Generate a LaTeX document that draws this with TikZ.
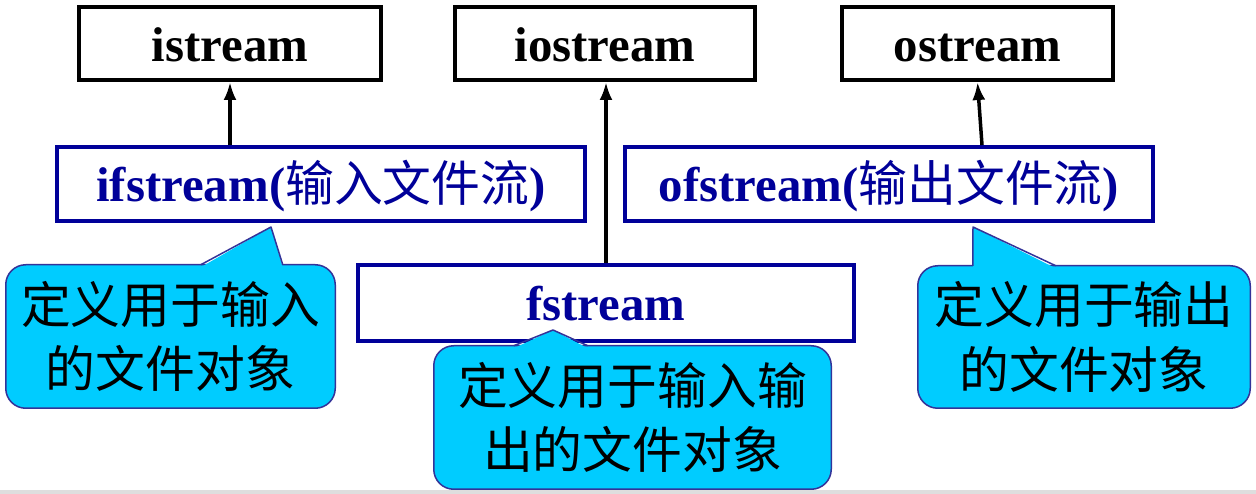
\documentclass[tikz,border=0pt]{standalone}
\usepackage{fontspec}
\setmainfont{Liberation Serif}
\newfontfamily\cjk{Noto Sans CJK SC}
\usetikzlibrary{arrows.meta}
\definecolor{fileblue}{HTML}{000099}
\definecolor{notecyan}{HTML}{00CCFF}
\definecolor{noteedge}{HTML}{333399}
\newcommand{\zh}[1]{{\cjk\mdseries #1}}

\begin{document}
\begin{tikzpicture}[>={Latex[length=18bp,width=13bp]}]
 \tikzstyle{base}=[draw=black,line width=4bp,fill=white,minimum height=73bp,text height=36bp,text depth=0bp,font=\fontsize{49}{58}\selectfont\bfseries]
 \tikzstyle{file}=[draw=fileblue,line width=4bp,fill=white,text=fileblue,minimum width=528bp,minimum height=74bp,text height=36bp,text depth=0bp,font=\fontsize{49}{58}\selectfont\bfseries]
 \tikzstyle{note}=[draw=noteedge,line width=1.5bp,fill=notecyan,rounded corners=20bp,outer sep=0pt,align=center,font=\fontsize{50}{65}\selectfont\cjk]
 \tikzstyle{pointer}=[draw=noteedge,line width=1.5bp,line join=round]
 \tikzstyle{inherit}=[->,line width=3.5bp]
 \useasboundingbox (0bp,0bp) rectangle (1256bp,494bp);
 \fill[black!13] (0bp,0bp) rectangle (1256bp,3.5bp);

 \node (is) at (230bp,450.5bp) [base,minimum width=302bp] {istream};
 \node (ios) at (605bp,450.5bp) [base,minimum width=300bp] {iostream};
 \node (os) at (977.5bp,450.5bp) [base,minimum width=271bp] {ostream};

 \node (ifs) at (321bp,310bp) [file] {ifstream(\zh{输入文件流})};
 \node (ofs) at (889bp,310bp) [file] {ofstream(\zh{输出文件流})};
 \node (fs) at (606bp,191bp) [file,minimum width=496bp,minimum height=76bp] {fstream};

 \draw [inherit] ([xshift=-91bp]ifs.north) -- (is.south);
 \draw [inherit] (fs.north) -- (fs.north |- ios.south);
 \draw [inherit] ([xshift=93bp]ofs.north) -- (os.south);

 % callouts
 \node (noteL) at (170.5bp,157.5bp) [note,minimum width=329.5bp,minimum height=143.5bp] {定义用于输入\\的文件对象};
 \node (noteR) at (1084bp,157bp) [note,minimum width=332.5bp,minimum height=142.5bp] {定义用于输出\\的文件对象};
 \node (noteM) at (632.5bp,76.5bp) [note,minimum width=397.5bp,minimum height=143.5bp] {定义用于输入输\\出的文件对象};

 \coordinate (tipL) at ([xshift=-50bp,yshift=-4bp]ifs.south);
 \coordinate (tipR) at ([xshift=84bp,yshift=-4bp]ofs.south);
 \coordinate (tipM) at ([xshift=-53bp,yshift=13bp]fs.south);

 \fill[notecyan] ([xshift=195bp,yshift=-2.5bp]noteL.north west) -- (tipL) -- ([xshift=277bp,yshift=-2.5bp]noteL.north west) -- cycle;
 \draw[pointer] ([xshift=195bp]noteL.north west) -- (tipL) -- ([xshift=277bp]noteL.north west);
 \fill[notecyan] ([xshift=55bp,yshift=-2.5bp]noteR.north west) -- (tipR) -- ([xshift=138bp,yshift=-2.5bp]noteR.north west) -- cycle;
 \draw[pointer] ([xshift=55bp]noteR.north west) -- (tipR) -- ([xshift=138bp]noteR.north west);
 \fill[notecyan] ([xshift=80bp,yshift=-2.5bp]noteM.north west) -- (tipM) -- ([xshift=154bp,yshift=-2.5bp]noteM.north west) -- cycle;
 \draw[pointer] ([xshift=80bp]noteM.north west) -- (tipM) -- ([xshift=154bp]noteM.north west);
\end{tikzpicture}
\end{document}
